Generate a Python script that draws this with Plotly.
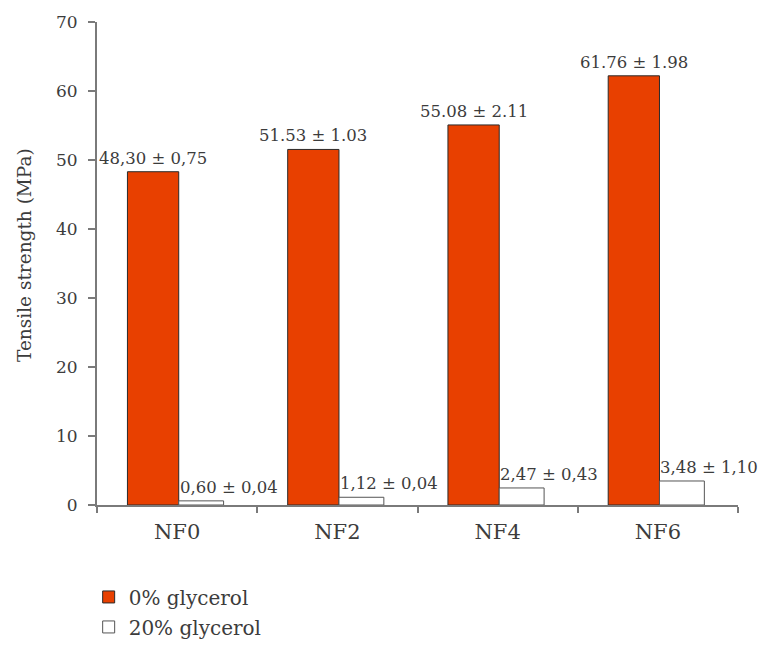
import plotly.graph_objects as go

categories = ["NF0", "NF2", "NF4", "NF6"]
glycerol0_values = [48.30, 51.53, 55.08, 62.2]
glycerol0_labels = ["48,30 ± 0,75", "51.53 ± 1.03", "55.08 ± 2.11", "61.76 ± 1.98"]
glycerol20_values = [0.60, 1.12, 2.47, 3.48]
glycerol20_labels = ["0,60 ± 0,04", "1,12 ± 0,04", "2,47 ± 0,43", "3,48 ± 1,10"]
y_ticks = [0, 10, 20, 30, 40, 50, 60, 70]

FONT = "DejaVu Serif"
TXT = "#3c3c3c"
AX = "#7a7a7a"
ORANGE = "#E84000"

# page body has an 8px margin, so the figure is shrunk/shifted to compensate
W, H = 760, 639
ML, MT = 89, 14
PW, PH = 641, 483

off0, w0 = -0.31, 0.32
off20, w20 = 0.01, 0.28

fig = go.Figure()
fig.add_trace(go.Bar(
    x=categories, y=glycerol0_values, name="0% glycerol",
    offset=off0, width=w0, legendgroup="a",
    marker=dict(color=ORANGE, line=dict(color="#2a2a2a", width=1)),
))
fig.add_trace(go.Bar(
    x=categories, y=glycerol20_values, name="20% glycerol",
    offset=off20, width=w20, legendgroup="b",
    marker=dict(color="white", line=dict(color="#555555", width=1)),
))

annotations = []
for i, (v, t) in enumerate(zip(glycerol0_values, glycerol0_labels)):
    annotations.append(dict(
        x=i + off0 + w0 / 2, y=v, xref="x", yref="y", text=t, showarrow=False,
        xanchor="center", yanchor="bottom", yshift=2,
        font=dict(family=FONT, size=16.5, color=TXT)))
for i, (v, t) in enumerate(zip(glycerol20_values, glycerol20_labels)):
    annotations.append(dict(
        x=i + off20, y=v, xref="x", yref="y", text=t, showarrow=False,
        xanchor="left", yanchor="bottom", yshift=2, xshift=-1,
        font=dict(family=FONT, size=16.5, color=TXT)))
# y-axis title
annotations.append(dict(
    x=-(ML - 16) / PW, y=(505 - 255) / PH, xref="paper", yref="paper",
    text="Tensile strength (MPa)", textangle=-90, showarrow=False,
    xanchor="center", yanchor="middle",
    font=dict(family=FONT, size=18.5, color=TXT)))

fig.update_layout(
    width=W, height=H,
    margin=dict(l=ML, r=W - ML - PW, t=MT, b=H - MT - PH, autoexpand=False),
    paper_bgcolor="white", plot_bgcolor="white",
    barmode="overlay",
    font=dict(family=FONT, color=TXT),
    annotations=annotations,
    showlegend=True,
    legend=dict(
        x=-0.013, y=-0.15, xanchor="left", yanchor="top",
        orientation="v", traceorder="grouped", tracegroupgap=1,
        font=dict(family=FONT, size=20, color=TXT),
        bgcolor="rgba(0,0,0,0)",
    ),
    xaxis=dict(
        type="category", range=[-0.5, len(categories) - 0.5],
        showline=True, linecolor=AX, linewidth=2,
        ticks="outside", tickson="boundaries", ticklen=6, tickcolor=AX, tickwidth=2,
        tickfont=dict(family=FONT, size=21, color=TXT), ticklabelstandoff=7,
        showgrid=False, zeroline=False, automargin=False,
    ),
    yaxis=dict(
        range=[0, 70], tickvals=y_ticks, showline=True, linecolor=AX, linewidth=2,
        ticks="outside", ticklen=7, tickcolor=AX, tickwidth=2,
        tickfont=dict(family=FONT, size=17, color=TXT), ticklabelstandoff=7,
        showgrid=False, zeroline=False, automargin=False,
    ),
)

fig.write_html("out.html")
